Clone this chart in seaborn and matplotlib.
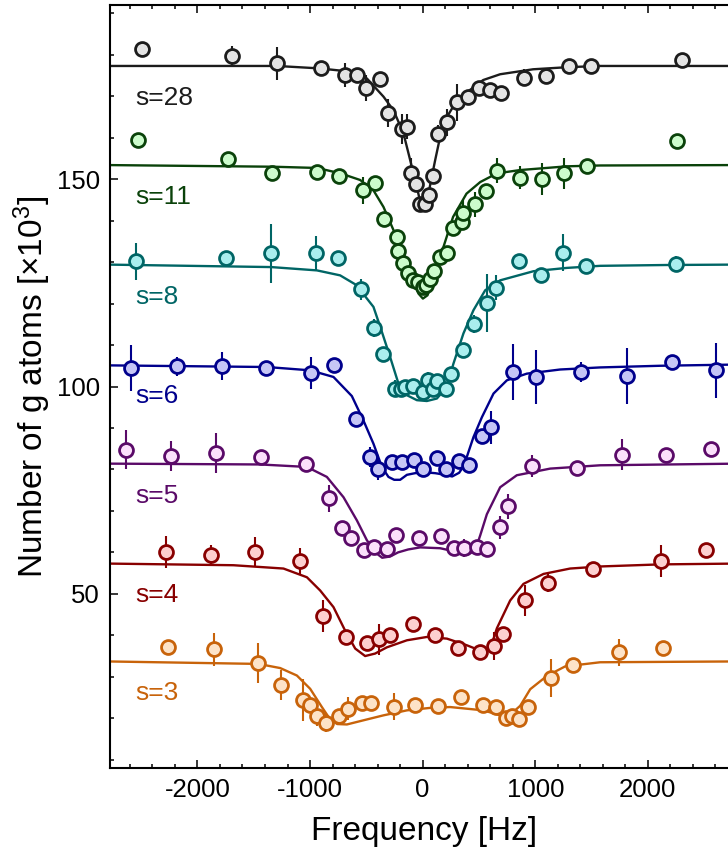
import matplotlib
matplotlib.use("Agg")
import matplotlib.pyplot as plt
import seaborn as sns
from matplotlib.ticker import MultipleLocator

# ---------------- measured spectra (frequency in Hz, atom number in 10^3) ----------------
freq_s28 = [-2490, -1695, -1295, -904, -694, -584, -502, -377, -304, -185, -140, -105, -58, -28,
            22, 60, 96, 140, 220, 304, 401, 502, 599, 697, 901, 1097, 1301, 1496, 2301]
atoms_s28 = [181.3, 179.8, 177.9, 176.7, 175.1, 175.1, 172.0, 174.1, 165.9, 162.2, 162.6, 151.4, 148.8, 144.1,
             144.1, 146.1, 150.8, 161.0, 163.7, 168.5, 169.7, 172.0, 171.5, 170.7, 174.5, 174.9, 177.3, 177.4, 178.7]
err_s28 = [1.0, 2.2, 4.0, 1.0, 2.9, 1.2, 3.2, 1.0, 3.4, 3.6, 3.0, 3.6, 1.5, 1.0,
           1.0, 1.0, 1.5, 2.0, 3.2, 4.4, 1.0, 1.0, 1.0, 1.0, 2.0, 1.0, 1.0, 1.0, 1.0]

freq_s11 = [-2529, -1730, -1334, -934, -739, -531, -419, -339, -229, -215, -176, -131, -87, -43, 2, 31,
            67, 105, 155, 220, 265, 348, 362, 466, 564, 664, 866, 1064, 1259, 1463, 2262]
atoms_s11 = [159.4, 154.8, 151.6, 151.8, 150.8, 147.3, 149.0, 140.5, 136.1, 132.7, 129.9, 127.4, 125.6, 125.2, 124.0, 124.4,
             126.0, 127.8, 131.3, 132.2, 138.2, 139.7, 141.9, 143.9, 147.1, 152.0, 150.4, 150.0, 151.4, 153.1, 159.2]
err_s11 = [1.0, 1.0, 1.0, 1.0, 1.0, 3.2, 1.0, 1.0, 1.0, 1.0, 1.0, 1.0, 1.0, 1.0, 1.0, 1.0,
           1.0, 1.0, 1.0, 1.5, 1.0, 1.0, 3.0, 3.0, 1.0, 3.0, 2.8, 3.8, 3.8, 1.0, 1.0]

freq_s8 = [-2544, -1747, -1345, -946, -753, -546, -428, -353, -244, -195, -155, -82, 7, 51,
           96, 131, 209, 250, 362, 452, 570, 653, 851, 1049, 1250, 1449, 2251]
atoms_s8 = [130.2, 130.9, 132.1, 132.1, 131.0, 123.4, 114.1, 107.8, 99.5, 99.5, 99.9, 100.1, 98.7, 101.5,
            99.5, 101.3, 99.5, 103.1, 108.9, 115.0, 120.2, 123.8, 130.3, 127.0, 132.3, 129.0, 129.5]
err_s8 = [4.5, 1.0, 7.2, 4.3, 1.0, 2.6, 2.2, 1.0, 2.0, 1.0, 1.0, 1.0, 1.0, 2.0,
          1.0, 1.0, 1.0, 1.0, 1.0, 2.2, 7.0, 3.0, 1.0, 1.5, 4.4, 1.0, 2.0]

freq_s6 = [-2588, -2182, -1783, -1392, -990, -784, -591, -472, -398, -273, -185, -75, 7,
           129, 206, 327, 407, 528, 608, 806, 1008, 1405, 1810, 2216, 2606]
atoms_s6 = [104.5, 104.9, 105.0, 104.5, 103.3, 105.1, 92.1, 83.0, 80.0, 81.8, 81.8, 82.3, 80.2,
            82.7, 80.0, 82.0, 81.0, 88.1, 90.2, 103.5, 102.3, 103.5, 102.5, 105.9, 103.9]
err_s6 = [5.5, 2.3, 3.4, 1.0, 3.8, 1.0, 1.0, 2.5, 2.5, 1.0, 1.0, 1.0, 1.0,
          1.0, 1.0, 1.0, 1.0, 1.0, 4.0, 6.8, 6.6, 2.4, 6.7, 1.0, 6.7]

freq_s5 = [-2633, -2233, -1833, -1434, -1034, -836, -715, -635, -517, -432, -318, -233, -36,
           164, 277, 366, 481, 568, 685, 762, 970, 1369, 1769, 2162, 2562]
atoms_s5 = [84.8, 83.2, 84.0, 83.0, 81.2, 73.0, 65.8, 63.4, 60.6, 61.4, 60.7, 64.1, 63.4,
            64.0, 61.0, 61.0, 61.3, 60.8, 66.0, 71.1, 80.8, 80.4, 83.6, 83.6, 85.0]
err_s5 = [4.6, 3.6, 4.8, 1.0, 1.0, 3.2, 1.0, 1.0, 1.0, 1.0, 1.0, 1.0, 1.0,
          1.0, 1.0, 2.2, 1.0, 1.0, 2.8, 3.0, 2.6, 1.0, 3.8, 1.0, 1.0]

freq_s4 = [-2277, -1878, -1487, -1088, -883, -685, -491, -388, -286, -87,
           111, 313, 511, 633, 712, 913, 1112, 1512, 2115, 2515]
atoms_s4 = [60.1, 59.4, 60.1, 57.8, 44.6, 39.5, 38.2, 39.0, 40.1, 42.7,
            40.0, 37.0, 36.0, 37.4, 40.2, 48.4, 52.6, 56.0, 57.9, 60.5]
err_s4 = [3.9, 2.4, 3.7, 3.2, 3.8, 1.0, 1.0, 3.8, 1.0, 1.0,
          1.0, 1.0, 1.0, 3.4, 1.0, 3.8, 2.2, 1.0, 3.8, 1.0]

freq_s3 = [-2257, -1857, -1458, -1256, -1066, -1002, -939, -859, -739, -659, -540, -456, -259,
           -64, 138, 336, 535, 655, 737, 795, 857, 937, 1138, 1336, 1739, 2138]
atoms_s3 = [37.1, 36.6, 33.4, 28.0, 24.4, 23.2, 20.6, 18.9, 20.5, 22.3, 23.6, 23.6, 22.8,
            23.2, 22.9, 25.1, 23.1, 22.7, 20.1, 20.5, 19.9, 22.8, 29.8, 32.8, 35.9, 37.0]
err_s3 = [1.0, 4.0, 4.8, 3.6, 5.0, 1.0, 2.5, 2.2, 1.0, 2.8, 1.0, 1.0, 3.2,
          1.0, 1.0, 1.0, 1.0, 1.0, 1.5, 1.0, 1.0, 1.0, 4.6, 1.0, 3.2, 1.0]

# ---------------- fitted line shapes (sampled) ----------------
fit_freq_s28 = [-2800, -1294, -910, -703, -496, -348, -259, -170, -111, -67, -28, -7, 15, 51, 111,
                155, 215, 289, 395, 537, 688, 981, 1283, 1576, 2800]
fit_atoms_s28 = [177.3, 177.3, 176.7, 176.1, 174.3, 169.9, 166.6, 161.0, 154.6, 149.8, 145.3, 143.3, 143.6, 146.5, 154.6,
                 160.2, 165.0, 168.3, 171.0, 173.9, 175.3, 176.5, 177.0, 177.3, 177.3]

fit_freq_s11 = [-2800, -1327, -937, -730, -555, -437, -348, -259, -170, -96, -37, 2, 43, 111,
                185, 270, 389, 511, 659, 866, 1283, 1576, 2800]
fit_atoms_s11 = [153.4, 153.0, 152.7, 151.4, 149.8, 147.3, 143.3, 137.7, 132.1, 126.4, 122.4, 121.2, 122.0, 127.2,
                 133.7, 140.9, 146.5, 149.3, 151.4, 152.2, 153.1, 153.3, 153.4]

fit_freq_s8 = [-2800, -1345, -939, -733, -584, -495, -437, -377, -289, -215, -140, -51, 37,
               126, 215, 273, 362, 451, 555, 688, 984, 1280, 1576, 2168, 2800]
fit_atoms_s8 = [129.4, 128.8, 128.0, 126.8, 124.4, 121.2, 119.2, 114.4, 107.1, 100.7, 97.9, 96.7, 96.5,
                97.1, 99.9, 105.5, 112.8, 118.4, 123.2, 125.6, 127.8, 128.6, 129.1, 129.3, 129.4]

fit_freq_s6 = [-2800, -1383, -999, -792, -629, -526, -437, -362, -304, -253, -200, -140, -67, 22,
               111, 200, 262, 324, 368, 404, 451, 526, 629, 748, 925, 1221, 1576, 2109, 2800]
fit_atoms_s6 = [105.1, 104.7, 103.9, 102.3, 97.7, 91.8, 86.2, 80.6, 78.2, 77.5, 77.5, 78.7, 79.1, 79.3,
                79.1, 78.7, 78.3, 79.2, 81.0, 84.0, 87.8, 92.6, 98.3, 101.5, 103.1, 104.1, 104.6, 105.0, 105.3]

fit_freq_s5 = [-2800, -1443, -1028, -851, -703, -584, -495, -407, -360, -289, -218, -129,
               -22, 155, 304, 407, 466, 511, 570, 688, 836, 1132, 1576, 2800]
fit_atoms_s5 = [81.4, 81.2, 80.6, 78.2, 73.3, 67.7, 62.9, 59.7, 58.7, 59.0, 60.0, 60.7,
                61.2, 61.0, 60.1, 59.5, 60.5, 64.1, 69.2, 75.7, 78.6, 80.2, 81.0, 81.4]

fit_freq_s4 = [-2800, -1680, -1236, -1028, -910, -792, -688, -599, -511, -422, -318, -140, 37,
               215, 392, 540, 599, 659, 777, 895, 1073, 1309, 1576, 2109, 2800]
fit_atoms_s4 = [57.3, 56.9, 56.1, 54.0, 50.8, 46.8, 41.1, 36.8, 35.0, 35.6, 37.1, 38.8, 39.6,
                39.2, 37.6, 36.0, 36.6, 41.7, 48.4, 52.4, 54.8, 56.1, 56.6, 57.1, 57.3]

fit_freq_s3 = [-2800, -1458, -1265, -1117, -999, -895, -821, -759, -673, -526, -348, -140,
               67, 244, 540, 688, 759, 812, 866, 955, 1103, 1265, 1576, 2800]
fit_atoms_s3 = [33.7, 33.1, 32.1, 30.3, 27.1, 22.7, 19.7, 18.6, 18.5, 19.5, 20.7, 21.9,
                22.5, 22.7, 21.9, 20.7, 20.2, 21.7, 23.0, 27.0, 30.2, 32.5, 33.5, 33.7]

# ---------------- labels ----------------
series_labels = ["s=28", "s=11", "s=8", "s=6", "s=5", "s=4", "s=3"]
label_freq = -2550
label_atoms = [167.8, 144.0, 119.8, 96.1, 72.0, 48.0, 24.3]

x_ticks = [-2000, -1000, 0, 1000, 2000]
y_ticks = [50, 100, 150]

# ---------------- styling ----------------
line_colors = ["#1c1c1c", "#0a420a", "#006565", "#00008c", "#5a0a68", "#880000", "#c8630a"]
face_colors = ["#e4e4e4", "#ccfccc", "#aaeeee", "#c6c6f6", "#fbe0fb", "#fdd0d0", "#fde3c8"]

series = [
    (freq_s28, atoms_s28, err_s28, fit_freq_s28, fit_atoms_s28),
    (freq_s11, atoms_s11, err_s11, fit_freq_s11, fit_atoms_s11),
    (freq_s8, atoms_s8, err_s8, fit_freq_s8, fit_atoms_s8),
    (freq_s6, atoms_s6, err_s6, fit_freq_s6, fit_atoms_s6),
    (freq_s5, atoms_s5, err_s5, fit_freq_s5, fit_atoms_s5),
    (freq_s4, atoms_s4, err_s4, fit_freq_s4, fit_atoms_s4),
    (freq_s3, atoms_s3, err_s3, fit_freq_s3, fit_atoms_s3),
]

sns.set_theme(style="ticks")
plt.rcParams.update({
    "font.family": ["Liberation Sans", "DejaVu Sans"],
    "mathtext.fontset": "custom",
    "mathtext.rm": "Liberation Sans",
    "mathtext.it": "Liberation Sans:italic",
    "axes.unicode_minus": False,
    "xtick.direction": "in",
    "ytick.direction": "in",
    "text.color": "black",
    "axes.labelcolor": "black",
})

fig = plt.figure(figsize=(7.28, 8.51), dpi=100)
ax = fig.add_axes([109.6 / 728, 83 / 851, (738 - 109.6) / 728, 763 / 851])

for (fx, fy, fe, cx, cy), lc, fc in zip(series, line_colors, face_colors):
    sns.lineplot(x=cx, y=cy, ax=ax, color=lc, lw=1.7, sort=False, estimator=None, zorder=2)
    ax.errorbar(fx, fy, yerr=fe, fmt="none", ecolor=lc, elinewidth=1.5, capsize=0, zorder=3)
    sns.scatterplot(x=fx, y=fy, ax=ax, s=100, marker="o", facecolor=fc, edgecolor=lc,
                    linewidth=2.0, zorder=4)

for txt, yv, lc in zip(series_labels, label_atoms, line_colors):
    ax.text(label_freq, yv, txt, color=lc, fontsize=19, ha="left", va="baseline")

ax.set_xlim(-2780, 2800)
ax.set_ylim(8, 192)
ax.set_xticks(x_ticks)
ax.set_yticks(y_ticks)
ax.xaxis.set_minor_locator(MultipleLocator(200))
ax.yaxis.set_minor_locator(MultipleLocator(10))
ax.tick_params(which="both", top=True, right=False, direction="in", width=1.1, colors="black",
               labelsize=18.5)
ax.tick_params(which="major", length=5.5)
ax.tick_params(which="minor", length=2.8)
ax.tick_params(axis="x", pad=7)
ax.tick_params(axis="y", pad=7)

for side in ["left", "bottom", "top", "right"]:
    ax.spines[side].set_linewidth(1.5)
    ax.spines[side].set_color("black")

ax.set_xlabel("Frequency [Hz]", fontsize=24, labelpad=10, color="black")
ax.set_ylabel(r"Number of g atoms [×10$^\mathregular{3}$]", fontsize=24, labelpad=3, color="black")

fig.savefig("out.png", dpi=100)
